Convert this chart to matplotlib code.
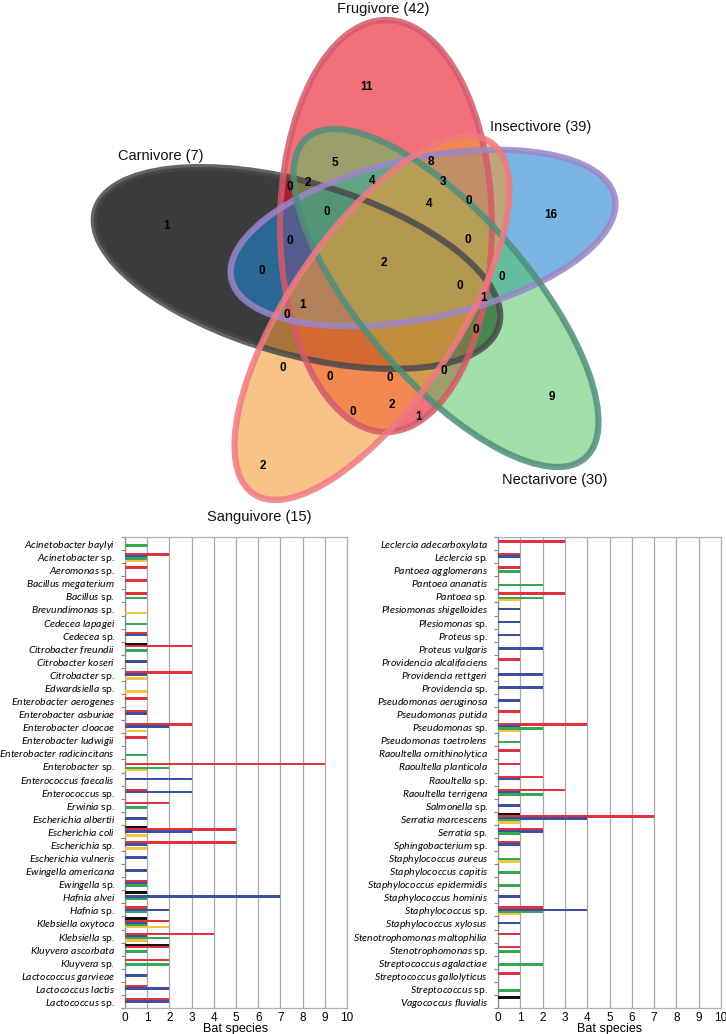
import matplotlib
matplotlib.use("Agg")
import matplotlib.pyplot as plt
from matplotlib.patches import Ellipse
import numpy as np

# ---------------- data ----------------
set_names = ["Carnivore", "Frugivore", "Insectivore", "Nectarivore", "Sanguivore"]
set_totals = [7, 42, 39, 30, 15]
region_counts = [11, 5, 8, 3, 4, 2, 0, 0, 4, 16, 1, 0, 0, 0, 2, 0, 0, 0, 1, 1,
                 0, 0, 0, 0, 0, 0, 2, 1, 0, 9, 2]

left_taxa = ["Acinetobacter baylyi", "Acinetobacter sp.", "Aeromonas sp.", "Bacillus megaterium",
             "Bacillus sp.", "Brevundimonas sp.", "Cedecea lapagei", "Cedecea sp.",
             "Citrobacter freundii", "Citrobacter koseri", "Citrobacter sp.", "Edwardsiella sp.",
             "Enterobacter aerogenes", "Enterobacter asburiae", "Enterobacter cloacae",
             "Enterobacter ludwigii", "Enterobacter radicincitans", "Enterobacter sp.",
             "Enterococcus faecalis", "Enterococcus sp.", "Erwinia sp.", "Escherichia albertii",
             "Escherichia coli", "Escherichia sp.", "Escherichia vulneris", "Ewingella americana",
             "Ewingella sp.", "Hafnia alvei", "Hafnia sp.", "Klebsiella oxytoca", "Klebsiella sp.",
             "Kluyvera ascorbata", "Kluyvera sp.", "Lactococcus garvieae", "Lactococcus lactis",
             "Lactococcus sp."]
left_carnivore   = [0,0,0,0,0,0,0,0,1,0,0,0,0,0,0,0,0,0,0,0,0,0,1,0,0,0,0,1,0,1,0,2,0,0,0,0]
left_frugivore   = [0,2,1,1,1,0,0,1,3,0,3,0,1,1,3,1,0,9,0,1,2,0,5,5,0,0,1,0,1,2,4,2,2,0,1,2]
left_insectivore = [0,1,0,0,0,0,0,1,0,1,1,0,0,1,2,0,0,0,3,3,0,1,3,1,1,1,1,7,2,1,1,0,0,1,2,2]
left_nectarivore = [1,1,0,0,1,0,1,0,1,0,0,0,0,0,0,0,1,2,0,0,1,0,0,0,0,0,1,1,1,1,2,1,2,0,0,0]
left_sanguivore  = [0,1,0,0,0,1,0,0,0,0,1,1,0,0,1,0,0,1,0,0,0,0,1,1,0,0,0,0,0,2,1,0,0,0,0,0]

right_taxa = ["Leclercia adecarboxylata", "Leclercia sp.", "Pantoea agglomerans", "Pantoea ananatis",
              "Pantoea sp.", "Plesiomonas shigelloides", "Plesiomonas sp.", "Proteus sp.",
              "Proteus vulgaris", "Providencia alcalifaciens", "Providencia rettgeri",
              "Providencia sp.", "Pseudomonas aeruginosa", "Pseudomonas putida", "Pseudomonas sp.",
              "Pseudomonas taetrolens", "Raoultella ornithinolytica", "Raoultella planticola",
              "Raoultella sp.", "Raoultella terrigena", "Salmonella sp.", "Serratia marcescens",
              "Serratia sp.", "Sphingobacterium sp.", "Staphylococcus aureus",
              "Staphylococcus capitis", "Staphylococcus epidermidis", "Staphylococcus hominis",
              "Staphylococcus sp.", "Staphylococcus xylosus", "Stenotrophomonas maltophilia",
              "Stenotrophomonas sp.", "Streptococcus agalactiae", "Streptococcus gallolyticus",
              "Streptococcus sp.", "Vagococcus fluvialis"]
right_carnivore   = [0,0,0,0,0,0,0,0,0,0,0,0,0,0,0,0,0,0,0,0,0,1,0,0,0,0,0,0,0,0,0,0,0,0,0,1]
right_frugivore   = [3,1,1,0,3,0,0,0,0,1,0,0,0,1,4,0,1,1,2,3,0,7,2,1,0,0,0,0,2,0,1,1,0,1,0,0]
right_insectivore = [0,1,0,0,0,1,1,1,2,0,2,2,1,0,1,0,0,0,1,1,1,4,2,1,0,0,0,1,4,1,0,0,0,0,0,0]
right_nectarivore = [0,0,1,2,2,0,0,0,0,0,0,0,0,0,2,1,0,0,0,2,0,1,1,0,1,1,1,0,2,0,0,1,2,0,1,0]
right_sanguivore  = [0,0,0,0,1,0,0,0,0,0,0,0,0,0,1,0,0,0,0,0,0,1,0,0,1,0,0,0,1,0,0,0,0,0,0,0]

x_ticks = list(range(0, 11))

# ---------------- style ----------------
plt.rcParams["font.family"] = ["Liberation Sans", "DejaVu Sans"]
plt.rcParams["mathtext.fontset"] = "custom"
plt.rcParams["mathtext.it"] = "Lato:italic"
plt.rcParams["mathtext.rm"] = "Lato"

W, H = 726, 1034
fig = plt.figure(figsize=(W / 100, H / 100), dpi=100)

# ---------------- Venn ----------------
axv = fig.add_axes([0, 0, 1, 1], zorder=0)
axv.set_xlim(0, W)
axv.set_ylim(H, 0)
axv.axis("off")

# center x, center y, width, height, screen angle (deg, ccw)
ell_geom = [
    (297, 268, 420, 172, -16),
    (386, 226, 212, 412, 0),
    (423, 238, 392, 160, 12),
    (446, 298, 424, 166, -49),
    (372, 318, 424, 168, 56),
]
fill_cols = ["#1a1a1a", "#e6101e", "#2185d2", "#53c561", "#f39b37"]
fill_alpha = [0.85, 0.6, 0.6, 0.55, 0.6]
edge_cols = ["#4a4a4a", "#d45a6a", "#9a86c8", "#4f8f7a", "#f07a80"]

for (cx, cy, w, h, a), fc, al in zip(ell_geom, fill_cols, fill_alpha):
    axv.add_patch(Ellipse((cx, cy), w, h, angle=-a, facecolor=fc, alpha=al, edgecolor="none"))
for (cx, cy, w, h, a), ec in zip(ell_geom, edge_cols):
    axv.add_patch(Ellipse((cx, cy), w, h, angle=-a, facecolor="none", edgecolor=ec,
                          lw=4.5, alpha=0.85))

region_pos = [(367, 87), (335, 163), (431, 162), (443, 182), (372, 181), (308, 183),
              (290, 187), (469, 201), (429, 204), (551, 215), (167, 226), (327, 212),
              (290, 241), (468, 240), (384, 263), (262, 271), (502, 277), (460, 286),
              (484, 298), (303, 305), (287, 315), (476, 330), (283, 368), (330, 377),
              (390, 378), (444, 371), (392, 405), (419, 417), (353, 412), (552, 397),
              (263, 466)]
for (px, py), c in zip(region_pos, region_counts):
    axv.text(px, py, str(c), ha="center", va="center", fontsize=8.5, fontweight="bold",
             color="black")

label_pos = [(161, 156), (383, 9), (541, 127), (555, 480), (259, 517)]
for (px, py), n, t in zip(label_pos, set_names, set_totals):
    axv.text(px, py, f"{n} ({t})", ha="center", va="center", fontsize=10.5, color="#111111")

# ---------------- bar charts ----------------
grp_cols = ["#111111", "#e3323e", "#3c4fa0", "#35a853", "#f4c640"]
offsets = [-0.32, -0.16, 0.0, 0.16, 0.32]


def fmt(name):
    if name.endswith(" sp."):
        genus = name[:-4]
        return r"$\mathit{" + genus + "}$ sp."
    return r"$\mathit{" + name.replace(" ", r"\ ") + "}$"


def bar_panel(rect, taxa, series):
    ax = fig.add_axes(rect, zorder=2)
    n = len(taxa)
    idx = np.arange(n)
    for vals, col, off in zip(series, grp_cols, offsets):
        vals = np.asarray(vals, dtype=float)
        m = vals > 0
        ax.barh(idx[m] + off, vals[m], height=0.2, color=col, zorder=3)
    ax.set_xlim(0, 10)
    ax.set_ylim(n - 0.5, -0.5)
    ax.set_xticks(x_ticks)
    ax.set_xticklabels([str(t) for t in x_ticks], fontsize=8.5)
    ax.set_xlabel("Bat species", fontsize=9, labelpad=-1)
    ax.tick_params(axis="x", length=0, pad=3)
    ax.set_yticks(idx)
    ax.set_yticklabels([fmt(t) for t in taxa], fontsize=7.5)
    ax.tick_params(axis="y", which="major", length=0, pad=7)
    ax.set_yticks(np.arange(n + 1) - 0.5, minor=True)
    ax.tick_params(axis="y", which="minor", length=3, color="#888888", width=0.8)
    for t in ax.get_yticklabels():
        t.set_family(["Lato", "DejaVu Sans"])
    ax.xaxis.grid(True, color="#a8a8a8", lw=0.9, zorder=1)
    for s in ["top", "right", "bottom"]:
        ax.spines[s].set_color("#b0b0b0")
        ax.spines[s].set_linewidth(0.9)
    ax.spines["left"].set_color("#888888")
    ax.spines["left"].set_linewidth(0.9)
    ax.set_facecolor("white")
    return ax


y0 = (H - 1008) / H
hh = (1008 - 537) / H
bar_panel([125 / W, y0, (347 - 125) / W, hh], left_taxa,
          [left_carnivore, left_frugivore, left_insectivore, left_nectarivore, left_sanguivore])
bar_panel([498 / W, y0, (721 - 498) / W, hh], right_taxa,
          [right_carnivore, right_frugivore, right_insectivore, right_nectarivore, right_sanguivore])

fig.savefig("out.png", dpi=100)
